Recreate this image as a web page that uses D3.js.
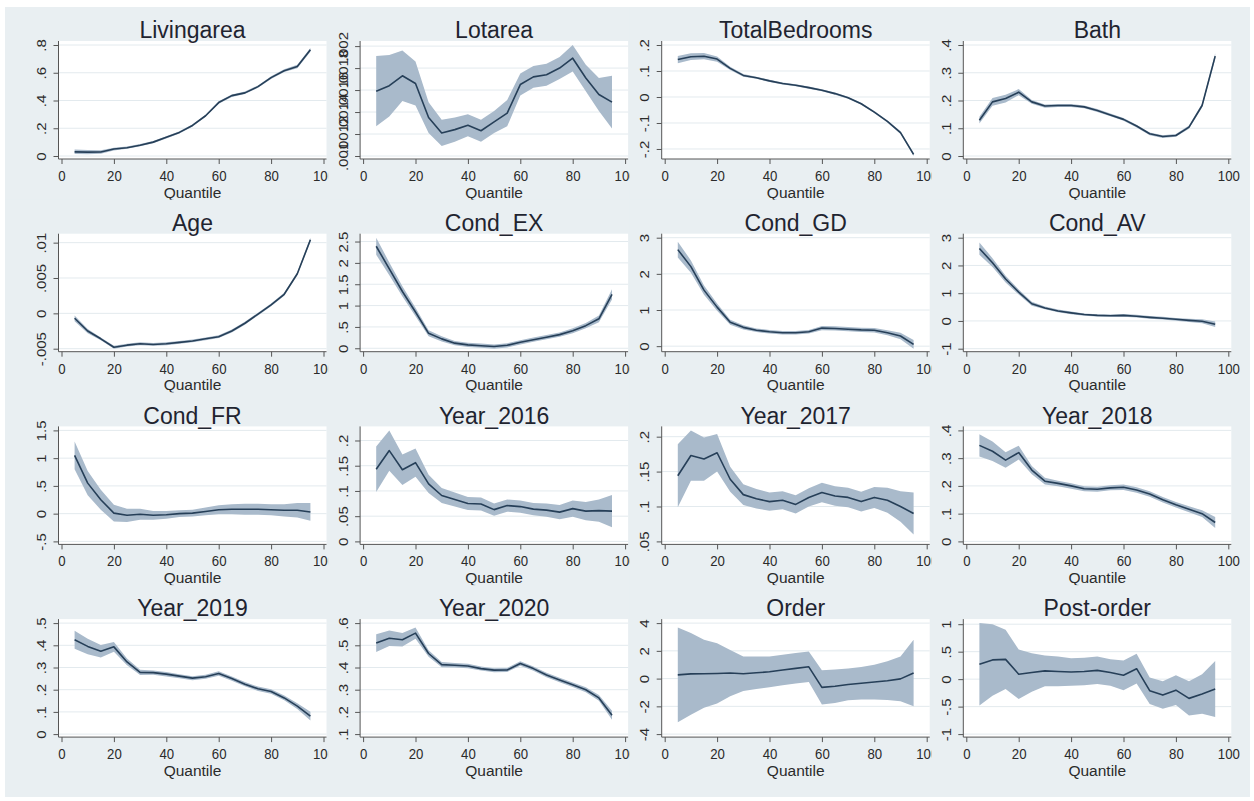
<!DOCTYPE html>
<html>
<head>
<meta charset="utf-8">
<script src="https://cdn.jsdelivr.net/npm/d3@7"></script>
<style>
  body { margin: 0; background: #ffffff; }
  svg text { font-family: "Liberation Sans", Arial, sans-serif; }
</style>
</head>
<body>
<svg id="chart" width="1254" height="801"></svg>
<script>
// Quantile grid shared by every panel
const quantiles = [5,10,15,20,25,30,35,40,45,50,55,60,65,70,75,80,85,90,95];
const xTicks = [0,20,40,60,80,100];

const panelTitles = ["Livingarea","Lotarea","TotalBedrooms","Bath","Age","Cond_EX","Cond_GD","Cond_AV",
  "Cond_FR","Year_2016","Year_2017","Year_2018","Year_2019","Year_2020","Order","Post-order"];

// Coefficient estimates and 95% CI half-widths per quantile
const livingareaCoef = [.030,.028,.029,.050,.060,.078,.100,.135,.170,.220,.290,.385,.435,.455,.500,.565,.615,.645,.765];
const livingareaCi   = [.016,.015,.013,.010,.008,.008,.008,.008,.008,.008,.008,.009,.009,.009,.009,.010,.010,.012,.014];
const livingareaTicks = [0,.2,.4,.6,.8];

const lotareaCoef = [.00159,.00164,.00173,.00166,.00135,.00121,.00124,.00128,.00123,.00131,.00139,.00165,.00172,.00174,.00180,.00189,.00171,.00156,.00149];
const lotareaCi   = [.00032,.00028,.00023,.00020,.00014,.00012,.00011,.00010,.00010,.00010,.00012,.00010,.00010,.00010,.00010,.00012,.00012,.00015,.00024];
const lotareaTicks = [.001,.0012,.0014,.0016,.0018,.002];

const totalBedroomsCoef = [.144,.155,.157,.146,.110,.083,.074,.062,.052,.045,.036,.026,.013,-.003,-.026,-.058,-.094,-.137,-.221];
const totalBedroomsCi   = [.014,.013,.012,.010,.006,.005,.004,.004,.004,.004,.004,.004,.004,.004,.004,.004,.004,.005,.006];
const totalBedroomsTicks = [-.2,-.1,0,.1,.2];

const bathCoef = [.129,.195,.207,.230,.195,.180,.182,.182,.177,.164,.148,.132,.108,.080,.070,.074,.104,.182,.360];
const bathCi   = [.012,.014,.014,.011,.007,.006,.005,.005,.005,.005,.005,.005,.005,.005,.005,.005,.006,.007,.010];
const bathTicks = [0,.1,.2,.3,.4];

const ageCoef = [-.0007,-.0025,-.0036,-.0048,-.0045,-.0043,-.0044,-.0043,-.0041,-.0039,-.0036,-.0033,-.0025,-.0014,-.0001,.0012,.0027,.0056,.0104];
const ageCi   = [.0004,.0003,.0002,.0002,.0002,.0002,.0002,.0002,.0002,.0002,.0002,.0002,.0002,.0002,.0002,.0002,.0002,.0002,.0003];
const ageTicks = [-.005,0,.005,.01];

const condExCoef = [2.39,1.86,1.33,.85,.35,.22,.12,.08,.06,.04,.07,.14,.20,.26,.32,.41,.53,.69,1.26];
const condExCi   = [.20,.15,.12,.10,.07,.06,.05,.05,.05,.05,.05,.05,.05,.05,.05,.06,.06,.08,.12];
const condExTicks = [0,.5,1,1.5,2,2.5];

const condGdCoef = [2.67,2.20,1.55,1.08,.66,.52,.44,.40,.37,.37,.40,.50,.49,.47,.45,.44,.37,.28,.05];
const condGdCi   = [.22,.17,.13,.10,.07,.06,.05,.05,.05,.05,.05,.06,.06,.06,.06,.06,.07,.09,.12];
const condGdTicks = [0,1,2,3];

const condAvCoef = [2.61,2.10,1.51,1.04,.62,.47,.36,.29,.23,.20,.19,.20,.17,.13,.10,.06,.02,-.01,-.12];
const condAvCi   = [.22,.16,.12,.09,.07,.05,.05,.05,.04,.04,.04,.05,.05,.05,.05,.05,.06,.07,.10];
const condAvTicks = [-1,0,1,2,3];

const condFrCoef = [1.05,.55,.25,.01,-.03,-.01,-.03,-.02,0,.01,.04,.07,.08,.08,.08,.07,.06,.06,.03];
const condFrCi   = [.25,.22,.18,.15,.12,.10,.08,.07,.06,.06,.07,.08,.09,.10,.10,.10,.11,.13,.16];
const condFrTicks = [-.5,0,.5,1,1.5];

const year2016Coef = [.143,.180,.142,.156,.114,.091,.083,.075,.074,.063,.071,.069,.064,.062,.058,.065,.060,.061,.060];
const year2016Ci   = [.045,.040,.030,.028,.018,.015,.014,.013,.013,.012,.012,.012,.012,.013,.014,.016,.018,.022,.032];
const year2016Ticks = [0,.05,.1,.15,.2];

const year2017Coef = [.144,.173,.168,.177,.139,.117,.111,.107,.109,.103,.113,.120,.115,.113,.107,.113,.109,.100,.090];
const year2017Ci   = [.045,.036,.031,.027,.018,.015,.014,.013,.013,.013,.013,.014,.014,.014,.014,.015,.018,.022,.030];
const year2017Ticks = [.05,.1,.15,.2];

const year2018Coef = [.346,.325,.293,.320,.257,.217,.209,.200,.190,.188,.193,.195,.185,.171,.150,.132,.116,.100,.068];
const year2018Ci   = [.040,.035,.028,.025,.015,.012,.010,.010,.009,.009,.009,.010,.010,.010,.010,.010,.011,.012,.020];
const year2018Ticks = [0,.1,.2,.3,.4];

const year2019Coef = [.425,.395,.373,.393,.325,.278,.277,.270,.261,.252,.258,.273,.250,.225,.204,.192,.163,.126,.081];
const year2019Ci   = [.040,.035,.028,.022,.015,.012,.010,.010,.009,.009,.009,.010,.010,.010,.010,.010,.011,.013,.020];
const year2019Ticks = [0,.1,.2,.3,.4,.5];

const year2020Coef = [.510,.532,.525,.555,.463,.413,.410,.407,.395,.388,.389,.418,.395,.366,.344,.322,.300,.263,.185];
const year2020Ci   = [.040,.035,.030,.025,.015,.012,.010,.010,.009,.009,.009,.010,.010,.010,.010,.010,.011,.013,.020];
const year2020Ticks = [.1,.2,.3,.4,.5,.6];

const orderCoef = [.27,.34,.35,.37,.40,.35,.42,.49,.62,.74,.85,-.63,-.55,-.42,-.33,-.25,-.15,-.02,.40];
const orderCi   = [3.42,2.94,2.45,2.17,1.67,1.25,1.17,1.11,1.10,1.10,1.10,1.23,1.20,1.14,1.17,1.25,1.40,1.62,2.40];
const orderTicks = [-4,-2,0,2,4];

const postOrderCoef = [.27,.35,.36,.09,.12,.15,.14,.13,.14,.16,.12,.07,.19,-.21,-.29,-.20,-.35,-.27,-.18];
const postOrderCi   = [.75,.65,.54,.45,.35,.28,.27,.25,.25,.25,.24,.27,.27,.24,.25,.27,.31,.36,.51];
const postOrderTicks = [-1,-.5,0,.5,1];

const panelCoefs = [livingareaCoef,lotareaCoef,totalBedroomsCoef,bathCoef,ageCoef,condExCoef,condGdCoef,condAvCoef,
  condFrCoef,year2016Coef,year2017Coef,year2018Coef,year2019Coef,year2020Coef,orderCoef,postOrderCoef];
const panelCis = [livingareaCi,lotareaCi,totalBedroomsCi,bathCi,ageCi,condExCi,condGdCi,condAvCi,
  condFrCi,year2016Ci,year2017Ci,year2018Ci,year2019Ci,year2020Ci,orderCi,postOrderCi];
const panelTicks = [livingareaTicks,lotareaTicks,totalBedroomsTicks,bathTicks,ageTicks,condExTicks,condGdTicks,condAvTicks,
  condFrTicks,year2016Ticks,year2017Ticks,year2018Ticks,year2019Ticks,year2020Ticks,orderTicks,postOrderTicks];

// Styling
const BG = "#e9eff2", LINE = "#263f58", BAND = "#a9bacb", GRID = "#e3eaee", AXIS = "#555555";
const TEXT_SQUEEZE = 0.88;
const colStep = 301.6, rowStep = 192.7;

// Leading-zero-free labels: .8, -.005, 1.5
const fmt = v => String(+v.toPrecision(6)).replace(/^(-?)0\./, "$1.");

const svg = d3.select("#chart");
svg.append("rect").attr("x", 5).attr("y", 7).attr("width", 1245).attr("height", 790).attr("fill", BG);

panelTitles.forEach((title, i) => {
  const c = i % 4, r = Math.floor(i / 4);
  const ax = 58.5 + c * colStep;
  const oy = r * rowStep;
  const plotTop = oy + 41, plotBottom = oy + 159;
  const plotLeft = ax, plotRight = ax + 268;

  const coef = panelCoefs[i], ci = panelCis[i], ticks = panelTicks[i];
  const rows = quantiles.map((q, k) => ({ q, est: coef[k], lo: coef[k] - ci[k], hi: coef[k] + ci[k] }));

  const yMin = Math.min(ticks[0], d3.min(rows, d => d.lo));
  const yMax = Math.max(ticks[ticks.length - 1], d3.max(rows, d => d.hi));
  const x = d3.scaleLinear().domain([0, 100]).range([ax + 3, ax + 265]);
  const y = d3.scaleLinear().domain([yMin, yMax]).range([oy + 156, oy + 45]);

  const g = svg.append("g");
  // panel backdrop (hides the neighbour's overflowing last tick label)
  g.append("rect").attr("x", c === 0 ? 5 : ax - 32).attr("y", oy + 7)
    .attr("width", c === 3 ? 1250 - (ax - 32) : 300).attr("height", rowStep).attr("fill", BG);
  g.append("rect").attr("x", plotLeft).attr("y", plotTop)
    .attr("width", plotRight - plotLeft).attr("height", plotBottom - plotTop).attr("fill", "#ffffff");

  // horizontal grid
  g.append("g").selectAll("line").data(ticks).join("line")
    .attr("x1", plotLeft).attr("x2", plotRight)
    .attr("y1", d => y(d)).attr("y2", d => y(d))
    .attr("stroke", GRID).attr("stroke-width", 1);

  // confidence band and estimate
  g.append("path").datum(rows)
    .attr("d", d3.area().x(d => x(d.q)).y0(d => y(d.lo)).y1(d => y(d.hi)))
    .attr("fill", BAND);
  g.append("path").datum(rows)
    .attr("d", d3.line().x(d => x(d.q)).y(d => y(d.est)))
    .attr("fill", "none").attr("stroke", LINE).attr("stroke-width", 1.6).attr("stroke-linejoin", "round");

  // y axis
  const yAxis = g.append("g").attr("transform", `translate(${ax},0)`)
    .call(d3.axisLeft(y).tickValues(ticks).tickFormat(fmt).tickSize(5).tickSizeOuter(0));
  yAxis.select(".domain").remove();
  yAxis.selectAll(".tick line").attr("stroke", AXIS);
  yAxis.selectAll(".tick text")
    .attr("x", null).attr("dy", "0.36em")
    .attr("transform", `translate(-17,0) scale(${TEXT_SQUEEZE},1) rotate(-90)`)
    .attr("text-anchor", "middle").attr("fill", "#2b2b2b").attr("font-size", 15)
    .attr("font-family", '"Liberation Sans", Arial, sans-serif');
  g.append("line").attr("x1", ax).attr("x2", ax).attr("y1", plotTop).attr("y2", plotBottom)
    .attr("stroke", AXIS).attr("stroke-width", 1);

  // x axis
  const xAxis = g.append("g").attr("transform", `translate(0,${plotBottom})`)
    .call(d3.axisBottom(x).tickValues(xTicks).tickFormat(d3.format("d")).tickSize(5).tickSizeOuter(0));
  xAxis.select(".domain").remove();
  xAxis.selectAll(".tick line").attr("stroke", AXIS);
  xAxis.selectAll(".tick text")
    .attr("y", null).attr("dy", "0.36em")
    .attr("transform", `translate(0,16.5) scale(${TEXT_SQUEEZE},1)`)
    .attr("fill", "#2b2b2b").attr("font-size", 15)
    .attr("font-family", '"Liberation Sans", Arial, sans-serif');
  g.append("line").attr("x1", plotLeft).attr("x2", plotRight).attr("y1", plotBottom).attr("y2", plotBottom)
    .attr("stroke", AXIS).attr("stroke-width", 1);

  // axis title and panel title
  g.append("text").attr("transform", `translate(${x(50)},${oy + 192})`)
    .attr("dy", "0.36em").attr("text-anchor", "middle").attr("font-size", 15.5).attr("fill", "#2b2b2b")
    .text("Quantile");
  g.append("text").attr("transform", `translate(${x(50)},${oy + 30})`)
    .attr("dy", "0.36em").attr("text-anchor", "middle").attr("font-size", 23).attr("fill", "#1f2430")
    .text(title);
});
</script>
</body>
</html>
